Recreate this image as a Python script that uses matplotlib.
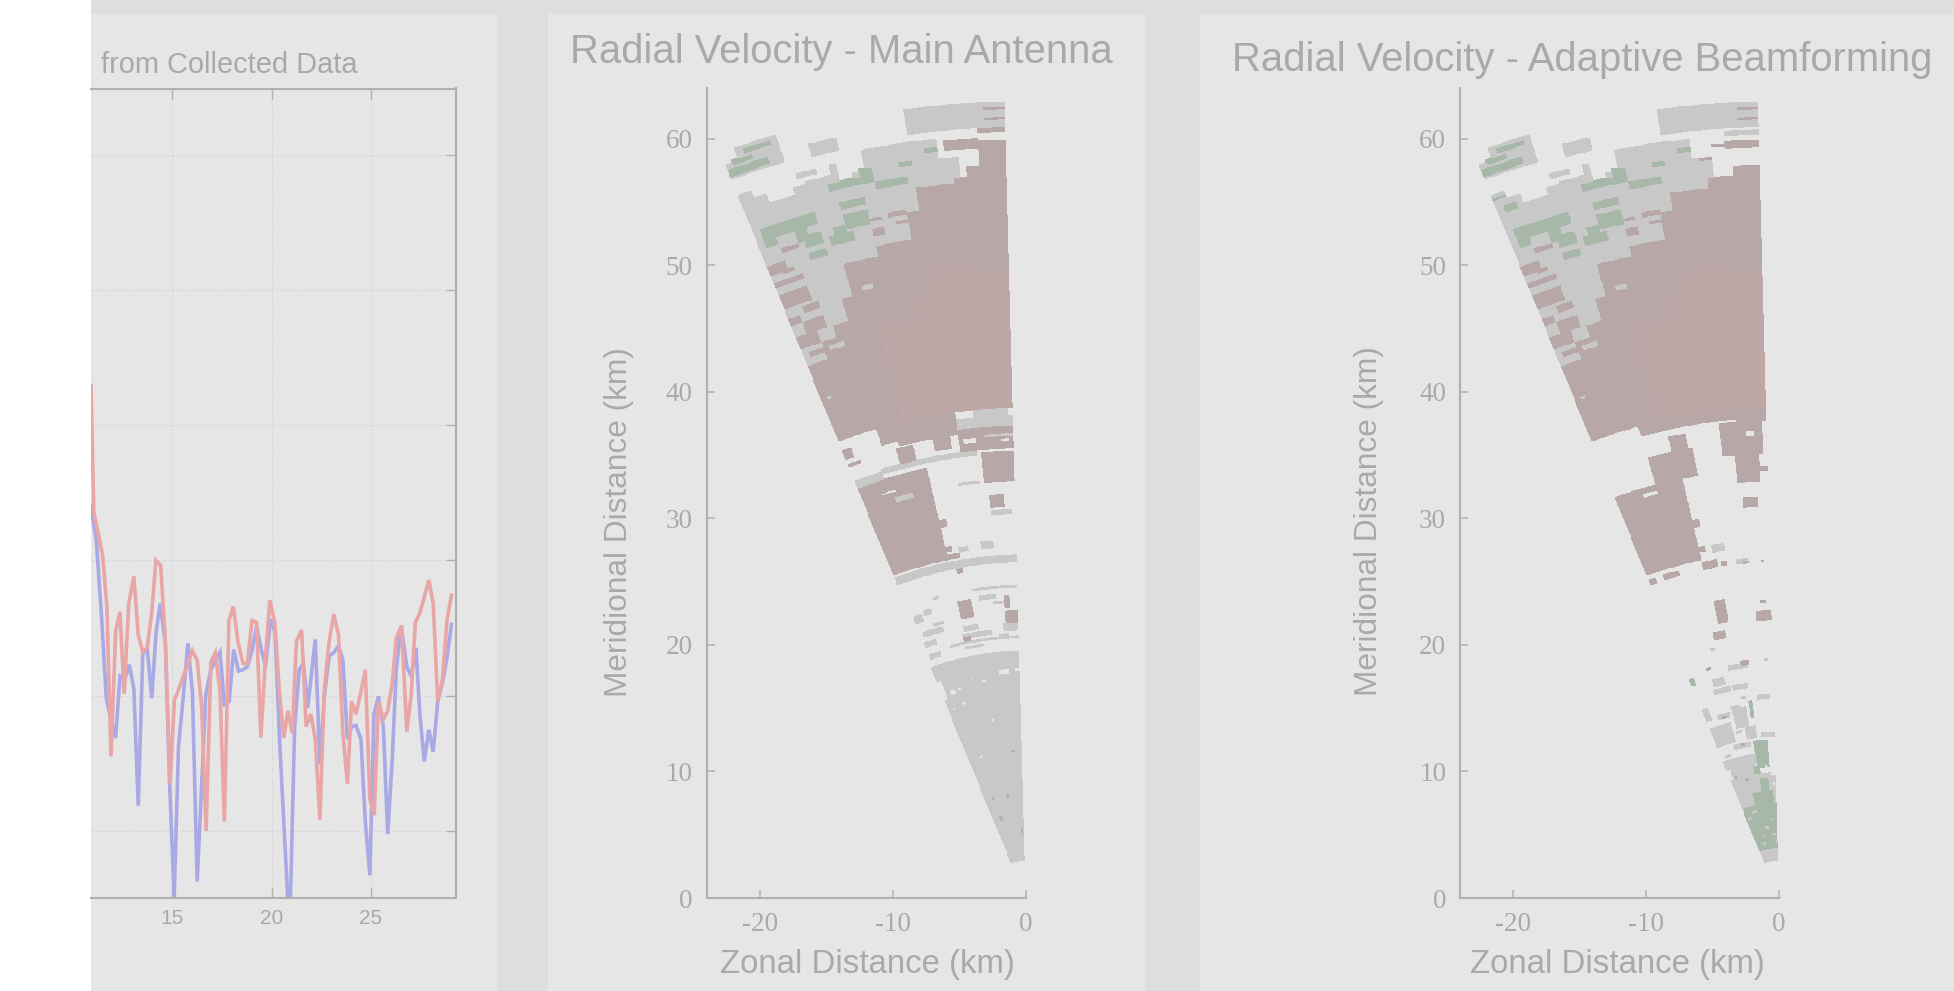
import numpy as np
import matplotlib
matplotlib.use("Agg")
import matplotlib.pyplot as plt
from matplotlib.colors import ListedColormap, BoundaryNorm
from matplotlib.patches import Rectangle

W, H = 1954, 991
plt.rcParams["axes.unicode_minus"] = False

# --- left panel: two profiles ---
blue_x = [10.90, 11.18, 11.44, 11.67, 11.91, 12.14, 12.36, 12.60, 12.83, 13.06, 13.28, 13.51, 13.73, 13.96,
          14.18, 14.39, 14.65, 14.86, 15.09, 15.31, 15.56, 15.78, 16.01, 16.25, 16.48, 16.68, 16.94, 17.17,
          17.40, 17.62, 17.86, 18.09, 18.33, 18.56, 18.78, 19.01, 19.24, 19.46, 19.69, 19.95, 20.17, 20.40,
          20.61, 20.82, 20.95, 21.16, 21.39, 21.60, 21.82, 22.03, 22.20, 22.43, 22.66, 22.90, 23.13, 23.37,
          23.59, 23.82, 24.03, 24.25, 24.50, 24.72, 24.95, 25.16, 25.38, 25.63, 25.85, 26.08, 26.28, 26.53,
          26.81, 27.03, 27.27, 27.47, 27.69, 27.92, 28.14, 28.37, 28.61, 28.84, 29.06]
blue_y = [24.07, 21.26, 15.65, 9.81, 8.18, 6.87, 11.45, 11.21, 12.29, 10.51, 1.87, 13.08, 13.55, 9.81,
          14.72, 16.82, 13.79, 3.50, -4.91, 6.31, 10.05, 13.88, 10.28, -3.74, 3.50, 10.05, 11.92, 12.62,
          13.22, 9.35, 9.58, 13.41, 11.82, 11.92, 12.15, 13.32, 15.09, 13.55, 12.15, 15.65, 14.72, 6.78,
          0.70, -5.14, -4.91, 7.71, 11.92, 12.38, 9.11, 11.92, 14.16, 4.91, 10.05, 12.94, 13.18, 13.69,
          12.62, 6.78, 7.71, 7.80, 6.78, 0.70, -3.27, 8.64, 9.95, 7.71, -0.23, 5.37, 11.92, 15.19,
          12.15, 11.45, 13.55, 8.64, 5.14, 7.48, 5.84, 9.58, 10.98, 12.85, 15.28]
red_x = [10.90, 11.04, 11.27, 11.49, 11.70, 11.91, 12.14, 12.36, 12.57, 12.80, 13.06, 13.28, 13.51, 13.73,
         13.96, 14.17, 14.41, 14.65, 14.88, 15.10, 15.33, 15.56, 15.78, 16.01, 16.25, 16.48, 16.70, 16.94,
         17.17, 17.40, 17.62, 17.85, 18.07, 18.30, 18.56, 18.78, 19.01, 19.24, 19.46, 19.69, 19.91, 20.16,
         20.38, 20.61, 20.82, 21.04, 21.25, 21.51, 21.74, 21.98, 22.20, 22.43, 22.66, 22.90, 23.13, 23.37,
         23.59, 23.82, 24.03, 24.25, 24.50, 24.72, 24.95, 25.17, 25.38, 25.63, 25.85, 26.08, 26.28, 26.55,
         26.81, 27.03, 27.24, 27.47, 27.69, 27.92, 28.14, 28.37, 28.61, 28.84, 29.06]
red_y = [32.94, 23.60, 21.96, 20.33, 16.59, 5.51, 14.72, 16.21, 10.14, 16.82, 18.83, 14.49, 13.22, 13.55,
         16.12, 20.00, 19.63, 14.02, 3.50, 9.67, 10.51, 11.45, 12.38, 13.32, 12.62, 9.11, 0.00, 12.48,
         13.18, 10.28, 0.70, 15.56, 16.59, 14.02, 12.38, 12.38, 15.56, 15.42, 6.92, 12.85, 17.06, 15.42,
         10.51, 6.87, 8.88, 7.24, 14.02, 14.86, 7.71, 8.64, 6.78, 0.84, 10.51, 14.02, 16.03, 14.49,
         7.24, 3.50, 9.58, 8.64, 10.28, 11.92, 2.34, 1.17, 9.58, 8.27, 8.88, 10.98, 14.25, 15.19,
         7.34, 10.05, 15.42, 16.12, 17.29, 18.55, 16.82, 9.58, 11.21, 15.65, 17.43]
profile_xticks = [15, 20, 25]
profile_yticks = [0, 10, 20, 30, 40, 50]

# --- radar sectors: blocks are (range start, range end, azimuth start, azimuth end) in km / deg west of north ---
shared_gray = [(45, 59.6, 20.4, 21.3), (45, 59, 19.5, 20.4), (45, 58.2, 17.5, 19.5), (45, 58.8, 16.3, 17.5),
               (45, 59, 14.5, 16.3), (45, 59.8, 13.8, 14.5), (45, 58.3, 12.9, 13.8), (45, 58.8, 12, 12.9),
               (45, 60.3, 6.4, 12), (54, 58.8, 5, 6.4), (61, 62.2, 20.3, 21.3), (61, 63.2, 17.5, 20.3),
               (60.8, 61.8, 13.4, 15.4), (59.4, 59.7, 15.5, 17)]
shared_red = [(38.7, 45.2, 1.45, 21.3), (45.2, 46.5, 1.45, 19.5), (46.5, 47.6, 1.45, 17.6), (47.6, 49.4, 1.45, 16.5),
              (49.4, 52, 1.45, 15.5), (52, 52.8, 1.45, 12.2), (52.8, 54.9, 1.45, 9.5), (54.9, 56.3, 1.45, 8.4),
              (52.7, 53.5, 20, 21.3), (52.6, 53, 19.3, 20.3), (51.7, 52.2, 19, 21.3), (50, 51.2, 19, 21.2),
              (49.1, 49.7, 18.3, 19.6), (48.5, 49.1, 20.3, 21.3), (47.5, 48.5, 18.5, 20.5), (46.5, 47.6, 19.5, 21.3),
              (45.7, 46.2, 19.3, 20.7), (54.2, 54.6, 18.3, 19.6), (53.5, 54.1, 11.2, 12.6), (54.7, 55.2, 9.3, 10.7),
              (54.1, 54.4, 9.3, 10.4), (54.8, 55, 11.2, 12.6)]
shared_pink = [(38.7, 46.5, 1.45, 14), (46.5, 48, 1.45, 10.4), (48, 49.8, 1.45, 9), (49.8, 50.4, 5, 8)]
shared_gray_spots = [(49.6, 49.9, 13.4, 14.6), (45.7, 46.2, 17.2, 18.6), (42.1, 42.3, 20.2, 21)]
shared_green = [(55.6, 56.6, 16.5, 21), (55, 55.6, 19.8, 21), (54.6, 55.6, 17.5, 18.5), (53.9, 55, 16.3, 17.6),
                (53.6, 54.4, 14, 16), (52.9, 53.6, 16.3, 17.6), (54.6, 55.7, 12.5, 14.2), (54.4, 55, 14.2, 15.5),
                (56.1, 56.7, 12.2, 14.5), (57.2, 57.8, 9, 11.5), (57.7, 58.3, 11.5, 15), (58.4, 59, 11.4, 12.6),
                (58.6, 58.9, 8.2, 9.5), (59.4, 59.7, 6.5, 7.6), (61.2, 61.8, 18.5, 21.3), (62.6, 62.9, 18, 20),
                (62, 62.3, 19.5, 21)]

main_gray = [(60.9, 62.9, 1.45, 8.5), (37.4, 38.2, 1.45, 8), (35.1, 35.5, 6, 18), (34.6, 35.4, 18, 21.3),
             (26.5, 27.1, 1.45, 21.3), (32.9, 33.2, 5.9, 9), (30.4, 30.7, 2, 5), (27.7, 28.2, 8.8, 10.5),
             (27.8, 28.3, 5, 7), (24.5, 24.8, 1.6, 9.4), (2.95, 19.6, 1.45, 21.3), (23.7, 24.1, 5.5, 8.5),
             (23.3, 23.6, 3, 6), (21.2, 21.7, 1.6, 4.5), (21.6, 22, 9.5, 12.5), (20.9, 21.3, 7, 13),
             (20.8, 21, 3.5, 5.5), (21.2, 21.6, 18.5, 21), (20.1, 20.6, 18.5, 21), (20.1, 20.3, 9, 13),
             (20.5, 20.8, 1.5, 16), (23.2, 23.8, 19.5, 20.8), (23.6, 23.9, 17.5, 19), (24.5, 24.8, 15.5, 16.5),
             (21.9, 22.4, 16.2, 20.5), (22.5, 22.8, 16, 18)]
main_red = [(56.3, 56.8, 1.45, 8.4), (56.8, 57.2, 1.45, 5.5), (57.2, 58, 1.45, 4.4), (58, 59.9, 1.45, 3.4),
            (59.4, 60.2, 3.4, 5.8), (60.5, 61, 1.45, 3.4), (61.6, 61.8, 1.45, 3), (62.3, 62.5, 1.45, 3),
            (35.5, 37.3, 1.45, 8), (36, 37, 9, 11), (33, 35.4, 1.45, 5.4),
            (37, 38.7, 8, 15), (37.3, 38.7, 15, 17), (35.5, 36.8, 13.5, 15.5), (27.3, 34.8, 12.3, 21.3),
            (29.9, 30.5, 11.5, 12.3), (28, 28.4, 11.5, 12.3), (27.3, 27.7, 10.5, 12.3), (37.2, 37.9, 20.3, 21.3),
            (36.5, 36.7, 20, 21.3), (31, 31.9, 2.7, 5), (22.5, 24, 9.8, 12.5), (21.7, 22.7, 1.5, 4),
            (23, 24, 2.7, 3.7), (20.8, 21.2, 11.5, 13), (26.1, 26.5, 10.5, 11.5)]
main_gray_spots = [(32.8, 33.2, 15, 17.5), (38.2, 38.7, 2, 6), (36.6, 36.8, 1.45, 5)]
main_green_spots = [(8.2, 8.4, 17, 18), (6.4, 6.8, 15.5, 18), (5, 5.6, 1.9, 3.2), (11.5, 11.8, 4, 5.5),
                    (8, 8.3, 9, 10.5), (17.1, 17.4, 20.5, 21.3)]
main_blank = [(17.8, 18, 12.7, 13.6), (17.4, 17.6, 9.8, 10.8), (17.8, 18.1, 4, 6.5), (17.9, 18.1, 1.45, 2.5),
              (17.1, 17.3, 16.5, 17.5), (15.9, 16.1, 16.5, 17.5), (15.7, 15.9, 19.5, 20.5), (14.2, 14.4, 9.5, 10.5),
              (11.6, 11.8, 16, 17.5), (16.8, 18.4, 20.3, 21.3), (17, 17.4, 18, 19.5), (33.5, 33.8, 17, 19),
              (36.2, 36.6, 6, 7.5), (34.9, 35.1, 12, 13), (36.2, 36.4, 2, 3)]

adaptive_gray = [(60.9, 62.9, 1.45, 8.5), (60.3, 60.8, 1.45, 3.8), (27.7, 28.3, 8.6, 10.5), (20.2, 20.4, 14, 15),
                 (2.95, 4, 1.45, 21.3), (7.5, 10, 1.45, 21.3), (10, 10.7, 10, 20), (17.3, 18, 13.5, 16.5),
                 (18.3, 18.7, 7.5, 12), (16.8, 17.2, 12.5, 17), (15.8, 16.2, 2.5, 6), (14.9, 16, 20, 21.3),
                 (13.8, 15.4, 9.5, 13.5), (14.7, 15.2, 14.5, 18), (12.7, 14.4, 15, 21.3), (12.8, 13.7, 7.5, 11),
                 (12.7, 13.2, 1.5, 6), (12.2, 12.5, 10, 16), (18.8, 19, 2.5, 3.5), (26.5, 26.9, 5, 7),
                 (10.7, 11.5, 8, 21.3), (16.8, 17.1, 8, 11.7), (15.4, 15.6, 11, 14), (11.8, 12, 18, 20),
                 (16, 16.2, 9, 10.5), (13.4, 13.6, 12, 14)]
adaptive_red = [(56.3, 57.2, 1.45, 5.4), (57.2, 58, 1.45, 3.6), (59.4, 60, 1.45, 4), (59.6, 59.8, 3.7, 5),
                (58.6, 58.8, 5, 6), (61.6, 61.8, 1.45, 3), (62.3, 62.5, 1.45, 3), (37.7, 38.7, 1.45, 5),
                (38, 38.7, 5, 16), (35.2, 37.7, 2, 6.8), (33, 35.2, 2.4, 5.5), (33.8, 34.1, 1.45, 2.5),
                (34, 36.2, 10.5, 16), (27.3, 34, 12.3, 21.3), (36.2, 37.3, 11, 13), (29.9, 30.5, 11.5, 12.3),
                (28, 28.4, 11.5, 12.3), (31, 31.8, 3, 5), (26.5, 27.2, 10, 12.5), (26.5, 26.9, 8.5, 9.6),
                (26.6, 26.8, 2.4, 3), (26.6, 26.9, 20.5, 21.3), (26.6, 26.9, 16.5, 19), (22.2, 24, 9.8, 12),
                (21.9, 22.8, 1.6, 4.5), (23.3, 23.6, 2.6, 3.3), (21, 21.6, 11, 13.5), (18.7, 18.9, 16, 17),
                (18.6, 18.9, 7, 9), (9.5, 9.7, 14, 15.5), (9.9, 10.1, 18.5, 19.5), (5.3, 5.5, 18.5, 20),
                (12.4, 12.6, 12, 13.5), (14.8, 15, 15.5, 17)]
adaptive_green = [(4, 7.5, 1.45, 21.3), (7.5, 8.5, 3, 14), (8.5, 9.5, 5, 9), (10.3, 12.5, 4, 9), (9.9, 10.5, 8, 11),
                  (14.3, 15.8, 7.5, 8.5), (18, 18.5, 20.5, 21.3), (59.1, 59.4, 20.3, 21.3), (58, 58.6, 19.8, 21),
                  (26.5, 26.8, 5, 6), (26.7, 27, 10.5, 11.5)]
adaptive_gray_spots = [(7, 7.2, 14, 17), (6.2, 6.4, 4, 6), (5.6, 5.8, 8, 11), (4.9, 5.1, 3, 5), (4.4, 4.6, 13, 16),
                       (6.6, 6.8, 19, 21), (8, 8.5, 15, 18), (5, 5.2, 12, 14), (4.3, 4.5, 1.5, 3)]
adaptive_blank = [(33.2, 33.6, 16, 18), (36.6, 37, 3, 4), (8.9, 9.1, 2, 3), (10.3, 10.5, 5, 6), (9.8, 10.7, 1.45, 3.5),
                  (35.8, 36.6, 8, 10)]

range_edges = np.arange(2.95, 63.2, 0.2)
az_edges = np.linspace(1.45, 21.3, 41)
tick_km_y = [0, 10, 20, 30, 40, 50, 60]
tick_km_x = [-20, -10, 0]

GREY = "#a9a9a9"
TICK = "#b0b0b0"


def px_x(x):
    return x / W


def px_y(y):
    return 1 - y / H


def add_axes_px(fig, left, top, right, bottom):
    return fig.add_axes([px_x(left), px_y(bottom), (right - left) / W, (bottom - top) / H])


def fill_grid(layers):
    # later layers overwrite earlier ones, code nan leaves the panel showing
    r_mid = 0.5 * (range_edges[:-1] + range_edges[1:])
    a_mid = 0.5 * (az_edges[:-1] + az_edges[1:])
    grid = np.full((len(r_mid), len(a_mid)), np.nan)
    for code, blocks in layers:
        for r0, r1, a0, a1 in blocks:
            rr = (r_mid >= r0) & (r_mid < r1)
            aa = (a_mid >= a0) & (a_mid < a1)
            grid[np.ix_(rr, aa)] = code
    return grid


def draw_sector(ax, layers):
    cmap = ListedColormap(["#c8c8c8", "#b8a7a7", "#bea7a7", "#a7b8a9"])
    norm = BoundaryNorm([0.5, 1.5, 2.5, 3.5, 4.5], cmap.N)
    rr, aa = np.meshgrid(range_edges, np.deg2rad(az_edges), indexing="ij")
    ax.pcolormesh(-rr * np.sin(aa), rr * np.cos(aa), np.ma.masked_invalid(fill_grid(layers)),
                  cmap=cmap, norm=norm, shading="flat")
    ax.set_xlim(-24, 0)
    ax.set_ylim(0, 64)
    ax.patch.set_alpha(0)
    for side in ["top", "right"]:
        ax.spines[side].set_visible(False)
    for side in ["left", "bottom"]:
        ax.spines[side].set_color(TICK)
        ax.spines[side].set_linewidth(1.5)
    ax.set_xticks(tick_km_x)
    ax.set_yticks(tick_km_y)
    ax.tick_params(direction="in", length=6, width=1.1, color=TICK, labelcolor=GREY, labelsize=19.5, pad=10)
    for lab in ax.get_xticklabels() + ax.get_yticklabels():
        lab.set_family("Liberation Serif")


fig = plt.figure(figsize=(W / 100, H / 100), dpi=100, facecolor="#dedede")

# panels behind the axes
for left, right, col, top in [(0, 91, "#ffffff", 0), (91, 497, "#e6e6e6", 14),
                              (548, 1145, "#e6e6e6", 14), (1200, 1954, "#e6e6e6", 14)]:
    fig.add_artist(Rectangle((px_x(left), 0), (right - left) / W, px_y(top), transform=fig.transFigure,
                             facecolor=col, edgecolor="none", zorder=-5))

ax = add_axes_px(fig, 91, 88.5, 456, 898)
ax.patch.set_alpha(0)
ax.plot(blue_x, blue_y, color="#a9a9e6", lw=2.6, solid_joinstyle="miter")
ax.plot(red_x, red_y, color="#e8a6a6", lw=2.6, solid_joinstyle="miter")
ax.set_xlim(10.9, 29.29)
ax.set_ylim(-4.96, 54.9)
ax.set_xticks(profile_xticks)
ax.set_yticks(profile_yticks)
ax.set_yticklabels([])
ax.grid(True, ls=":", lw=0.8, color="#cfcfcf")
ax.tick_params(direction="in", length=7, width=1.0, color=TICK, labelcolor=GREY, labelsize=15, pad=8,
               top=True, right=True, left=False)
for lab in ax.get_xticklabels():
    lab.set_family("Liberation Sans")
ax.spines["left"].set_visible(False)
for side in ["top", "right", "bottom"]:
    ax.spines[side].set_color(TICK)
    ax.spines[side].set_linewidth(1.5)

ax_main = add_axes_px(fig, 706.7, 88, 1025.6, 898)
draw_sector(ax_main, [(1, shared_gray), (1, main_gray), (2, shared_red), (2, main_red), (3, shared_pink),
                      (1, shared_gray_spots), (1, main_gray_spots), (4, shared_green), (4, main_green_spots),
                      (np.nan, main_blank)])

ax_adapt = add_axes_px(fig, 1460, 88, 1779, 898)
draw_sector(ax_adapt, [(1, shared_gray), (1, adaptive_gray), (4, adaptive_green), (1, adaptive_gray_spots),
                       (2, shared_red), (2, adaptive_red), (3, shared_pink), (1, shared_gray_spots),
                       (4, shared_green), (np.nan, adaptive_blank)])

sans = "Liberation Sans"
fig.text(px_x(101), px_y(65), "from Collected Data", color=GREY, family=sans, fontsize=20.9, va="center")
fig.text(px_x(570), px_y(52), "Radial Velocity - Main Antenna", color=GREY, family=sans, fontsize=28.8, va="center")
fig.text(px_x(1232), px_y(60), "Radial Velocity - Adaptive Beamforming", color=GREY, family=sans, fontsize=28.8,
         va="center")
fig.text(px_x(867), px_y(965), "Zonal Distance (km)", color=GREY, family=sans, fontsize=23.8, ha="center", va="center")
fig.text(px_x(1617), px_y(965), "Zonal Distance (km)", color=GREY, family=sans, fontsize=23.8, ha="center", va="center")
fig.text(px_x(619), px_y(522), "Meridional Distance (km)", color=GREY, family=sans, fontsize=22.8, rotation=90,
         ha="center", va="center")
fig.text(px_x(1369), px_y(521), "Meridional Distance (km)", color=GREY, family=sans, fontsize=22.8, rotation=90,
         ha="center", va="center")

fig.savefig("out.png", dpi=100, facecolor=fig.get_facecolor())
